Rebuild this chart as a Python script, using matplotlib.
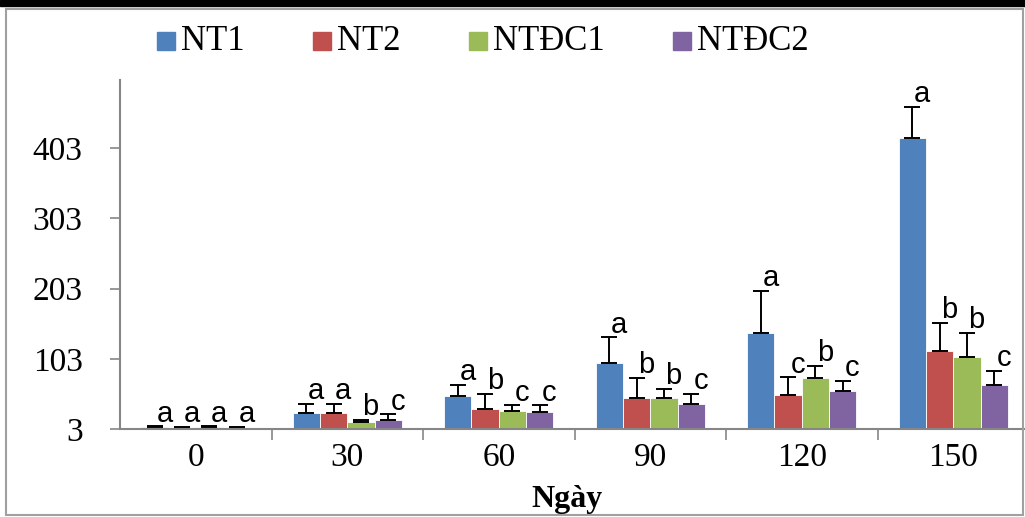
import matplotlib.pyplot as plt
import numpy as np
from matplotlib.patches import Rectangle
from matplotlib.ticker import FixedLocator

ngay = ['0', '30', '60', '90', '120', '150']
nhom = ['NT1', 'NT2', 'NTĐC1', 'NTĐC2']
mau = ['#4F81BD', '#C0504D', '#9BBB59', '#8064A2']

# gia tri trung binh (doc tu hinh)
nt1 = [6, 26, 50, 97, 139, 417]
nt2 = [5, 26, 32, 47, 52, 114]
ntdc1 = [6, 13, 29, 47, 76, 106]
ntdc2 = [5, 16, 27, 39, 57, 66]
# sai so (phia tren)
ss_nt1 = [1, 13, 16, 37, 61, 45]
ss_nt2 = [1, 13, 21, 29, 25, 40]
ss_ntdc1 = [1, 3, 8, 13, 17, 34]
ss_ntdc2 = [1, 8, 10, 14, 15, 20]
# chu cai thong ke
cc_nt1 = ['a', 'a', 'a', 'a', 'a', 'a']
cc_nt2 = ['a', 'a', 'b', 'b', 'c', 'b']
cc_ntdc1 = ['a', 'b', 'c', 'b', 'b', 'b']
cc_ntdc2 = ['a', 'c', 'c', 'c', 'c', 'c']

gia_tri = [nt1, nt2, ntdc1, ntdc2]
sai_so = [ss_nt1, ss_nt2, ss_ntdc1, ss_ntdc2]
chu = [cc_nt1, cc_nt2, cc_ntdc1, cc_ntdc2]

W, H = 1025, 517
day = 3
fig = plt.figure(figsize=(W / 100, H / 100), dpi=100)
ax = fig.add_axes([120 / W, 1 - 429 / H, 909 / W, 349 / H])

x = np.arange(len(ngay))
w = 0.18
for k in range(4):
    vt = x + (k - 1.5) * w
    h = np.array(gia_tri[k]) - day
    ax.bar(vt, h, w, bottom=day, color=mau[k], edgecolor='white', linewidth=0.6,
           label=nhom[k], zorder=2)
    ax.errorbar(vt, gia_tri[k], yerr=[np.zeros(6), sai_so[k]], fmt='none',
                ecolor='black', elinewidth=1.4, capsize=6, capthick=1.4, zorder=3)
    for i in range(6):
        ax.annotate(chu[k][i], (vt[i], gia_tri[k][i] + sai_so[k][i]),
                    xytext=(7, 9), textcoords='offset points', ha='center',
                    va='center', fontsize=21, family='Liberation Sans', zorder=4)

ax.set_xlim(-0.5, 5.5)
ax.set_ylim(day, 500)
ax.set_yticks([3, 103, 203, 303, 403])
ax.set_xticks(x)
ax.set_xticklabels(ngay)
ax.xaxis.set_minor_locator(FixedLocator(np.arange(0.5, 5.0, 1.0)))
ax.tick_params(axis='x', which='major', length=0, pad=10)
ax.tick_params(axis='x', which='minor', length=8, width=1.2, color='#868686')
ax.tick_params(axis='y', length=7, width=1.2, color='#868686', pad=20)
for lbl in ax.get_xticklabels() + ax.get_yticklabels():
    lbl.set_fontfamily('Liberation Serif')
    lbl.set_fontsize(24)

for s in ['top', 'right']:
    ax.spines[s].set_visible(False)
for s in ['left', 'bottom']:
    ax.spines[s].set_color('#868686')
    ax.spines[s].set_linewidth(1.5)
ax.spines['bottom'].set_zorder(5)

fig.text(567 / W, 1 - 500 / H, 'Ngày', ha='center', va='center',
         fontsize=23, fontweight='bold', family='Liberation Serif')

# chu thich (dat tay de giong hinh goc)
lx = [157, 313, 469, 673]
for k in range(4):
    fig.patches.append(Rectangle((lx[k] / W, 1 - 50 / H), 18 / W, 18 / H,
                                 transform=fig.transFigure, color=mau[k]))
    fig.text((lx[k] + 24) / W, 1 - 41 / H, nhom[k], ha='left', va='center',
             fontsize=25, family='Liberation Serif')

# khung ngoai
fig.patches.append(Rectangle((6 / W, 2 / H), 1 - 8 / W, 1 - 11 / H,
                             transform=fig.transFigure, fill=False,
                             edgecolor='#A0A0A0', linewidth=1.5))
fig.patches.append(Rectangle((0, 1 - 6 / H), 1, 6 / H, transform=fig.transFigure,
                             color='black'))

fig.savefig('out.png', dpi=100)
